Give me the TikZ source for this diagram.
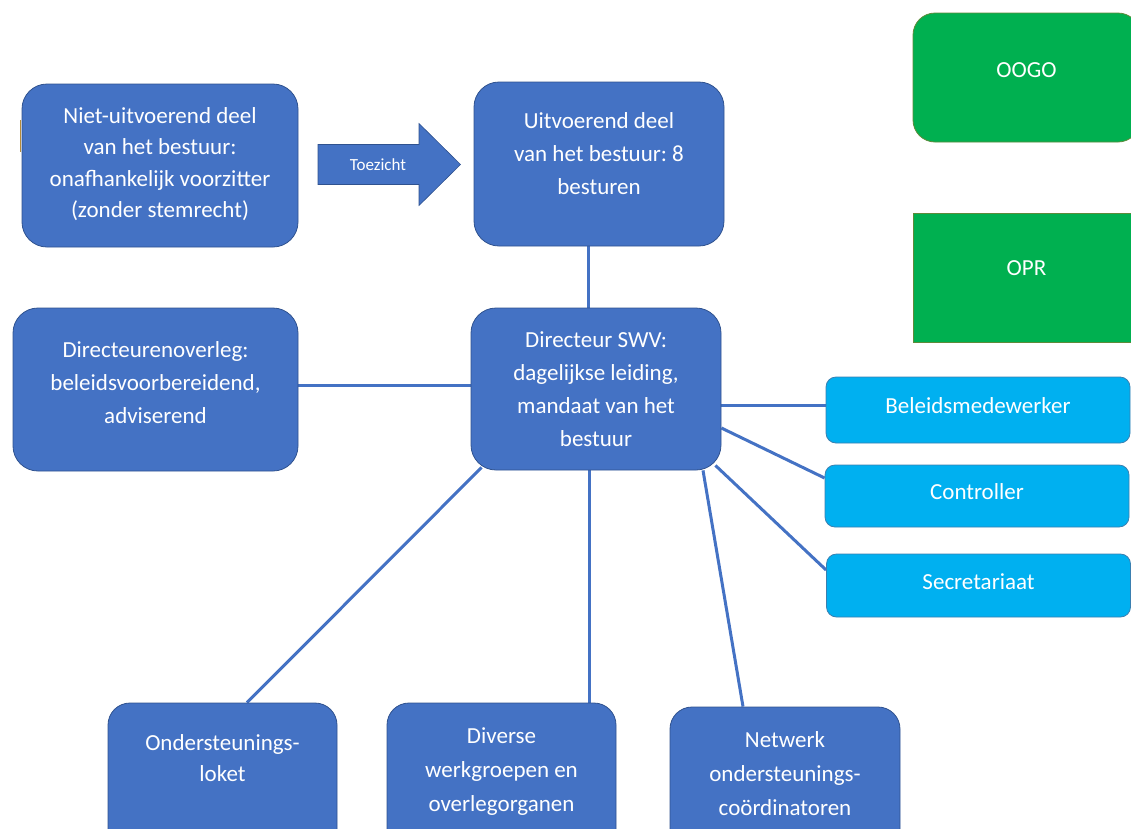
\documentclass[tikz,border=0pt]{standalone}
\usepackage{fontspec}
\setmainfont{Carlito}
\usetikzlibrary{calc,backgrounds}
\frenchspacing
\definecolor{bluefill}{HTML}{4472C4}
\definecolor{blueline}{HTML}{2F528F}
\definecolor{cyanfill}{HTML}{00B0F0}
\definecolor{cyanline}{HTML}{3A7FB0}
\definecolor{greenfill}{HTML}{00B050}
\definecolor{greenline}{HTML}{5E8A3A}
\definecolor{linkcol}{HTML}{4472C4}
\definecolor{artifact}{HTML}{B58B3A}
\begin{document}
\begin{tikzpicture}[x=1pt,y=-1pt,
  txt/.style={text=white, align=center, inner sep=0pt, font=\fontsize{23}{32}\selectfont},
  bluebox/.style={txt, draw=blueline, line width=0.8pt, fill=bluefill, rounded corners=25pt},
  lowbox/.style={bluebox, rounded corners=22pt, font=\fontsize{23}{34}\selectfont},
  cyanbox/.style={txt, draw=cyanline, line width=0.8pt, fill=cyanfill, rounded corners=10pt,
    minimum width=304pt, text depth=8pt},
  greenbox/.style={txt, draw=greenline, line width=0.8pt, fill=greenfill,
    minimum width=227pt, minimum height=129pt},
  link/.style={draw=linkcol, line width=3pt}]
\useasboundingbox (0,0) rectangle (1131,828);
\clip (0,0) rectangle (1131,828);

% top row
\node[bluebox, font=\fontsize{23}{31.2}\selectfont, minimum width=276pt, minimum height=163pt, text depth=6pt] (A) at (160,165.5)
  {Niet-uitvoerend deel\\van het bestuur:\\onafhankelijk voorzitter\\(zonder stemrecht)};
\node[bluebox, font=\fontsize{23}{33}\selectfont, minimum width=250pt, minimum height=164pt, text depth=20pt] (B) at (599,164)
  {Uitvoerend deel\\van het bestuur: 8\\besturen};
\draw[artifact, line width=1pt] (20.5,120) -- (20.5,152);

% arrow Toezicht
\filldraw[fill=bluefill, draw=blueline, line width=0.6pt]
  (318,144.5) -- (419,144.5) -- (419,123.5) -- (460.5,164.5) -- (419,205.5) -- (419,184.5) -- (318,184.5) -- cycle;
\node[text=white, font=\fontsize{17}{20}\selectfont, inner sep=0pt] (toez) at (378,165) {Toezicht};

% middle row
\node[bluebox, font=\fontsize{23}{33}\selectfont, minimum width=250pt, minimum height=162pt, text depth=-12pt] (C) at (596,389)
  {Directeur SWV:\\dagelijkse leiding,\\mandaat van het\\bestuur};
\node[bluebox, font=\fontsize{23}{33}\selectfont, minimum width=285pt, minimum height=163pt, text depth=14pt] (D) at (155.5,389.5)
  {Directeurenoverleg:\\beleidsvoorbereidend,\\adviserend};

% green boxes
\node[greenbox, rounded corners=22pt, text depth=15pt] (oogo) at (1026.5,77.5) {OOGO};
\node[greenbox, text depth=19pt] (opr) at (1026.5,277.5) {OPR};

% cyan boxes
\node[cyanbox, minimum height=66pt] (bel) at (978,410) {Beleidsmedewerker};
\node[cyanbox, minimum height=62pt] (con) at (977,496) {Controller};
\node[cyanbox, minimum height=63pt] (sec) at (978.5,585.5) {Secretariaat};

% bottom boxes
\node[lowbox, font=\fontsize{23}{31}\selectfont, minimum width=229pt, minimum height=150pt, text depth=40pt] (lok) at (222.5,778)
  {Ondersteunings-\\loket};
\node[lowbox, minimum width=229pt, minimum height=150pt, text depth=16pt] (div) at (501.5,778)
  {Diverse\\werkgroepen en\\overlegorganen};
\node[lowbox, minimum width=230pt, minimum height=150pt, text depth=18pt] (net) at (785,782)
  {Netwerk\\ondersteunings-\\coördinatoren};

% connectors
\begin{scope}[on background layer]
\draw[link] ($(B.south)+(-11,0)$) -- ($(C.north)+(-8,0)$);
\draw[link] ($(D.east)+(0,-4.5)$) -- ($(C.west)+(0,-4)$);
\draw[link] ($(C.east)+(0,16)$) -- ($(bel.west)+(0,-5)$);
\draw[link] ($(C.east)+(0,39)$) -- ($(con.west)+(0,-18)$);
\draw[link] ($(C.south east)+(-6,-5)$) -- ($(sec.west)+(0,-15.5)$);
\draw[link] ($(C.south)+(107,0)$) -- ($(net.north)+(-42,0)$);
\draw[link] ($(C.south)+(-7,0)$) -- ($(div.north)+(87.5,0)$);
\draw[link] ($(C.south west)+(11,-3)$) -- ($(lok.north)+(24.5,0)$);
\end{scope}
\end{tikzpicture}
\end{document}
